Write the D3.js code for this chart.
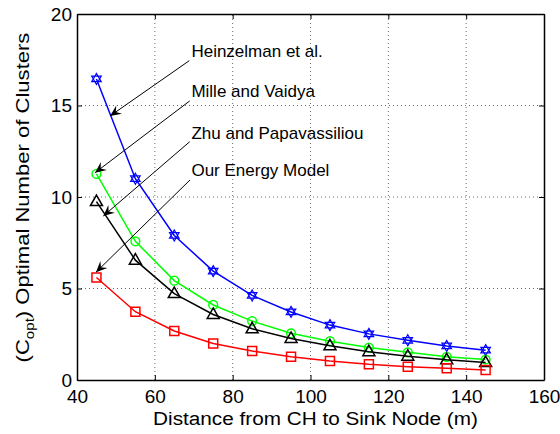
<!DOCTYPE html>
<html>
<head>
<meta charset="utf-8">
<script src="https://cdn.jsdelivr.net/npm/d3@7"></script>
<style>
  body { margin: 0; background: #fff; }
  text { font-family: "Liberation Sans", Arial, sans-serif; fill: #000; }
</style>
</head>
<body>
<div id="chart"></div>
<script>
// distances (m)
const distances = [45, 55, 65, 75, 85, 95, 105, 115, 125, 135, 145];

const heinzelman = [16.45, 11.0, 7.9, 5.95, 4.62, 3.72, 3.0, 2.52, 2.17, 1.86, 1.63];
const mille      = [11.26, 7.58, 5.43, 4.1, 3.22, 2.55, 2.12, 1.77, 1.51, 1.27, 1.12];
const zhu        = [9.75, 6.55, 4.72, 3.58, 2.8, 2.27, 1.87, 1.55, 1.3, 1.1, 0.95];
const ourModel   = [5.6, 3.73, 2.68, 2.0, 1.58, 1.27, 1.04, 0.86, 0.73, 0.64, 0.55];

const xTicks = [40, 60, 80, 100, 120, 140, 160];
const yTicks = [0, 5, 10, 15, 20];

const series = [
  { name: "Heinzelman et al.", values: heinzelman, color: "#0000ff", marker: "hexagram" },
  { name: "Mille and Vaidya", values: mille, color: "#00ff00", marker: "circle" },
  { name: "Zhu and Papavassiliou", values: zhu, color: "#000000", marker: "triangle" },
  { name: "Our Energy Model", values: ourModel, color: "#ff0000", marker: "square" }
];

// annotation text anchor, arrow tail and arrow head, in data units
const notes = [
  { text: "Heinzelman et al.",      tx: 69.4, ty: 17.65, x1: 68.86, y1: 17.45, x2: 48.5, y2: 14.43 },
  { text: "Mille and Vaidya",       tx: 69.4, ty: 15.45, x1: 68.96, y1: 15.25, x2: 44.65, y2: 11.33 },
  { text: "Zhu and Papavassiliou",  tx: 69.4, ty: 13.15, x1: 68.96, y1: 13.02, x2: 46.76, y2: 8.96 },
  { text: "Our Energy Model",       tx: 69.4, ty: 11.15, x1: 69.04, y1: 10.93, x2: 44.88, y2: 5.89 }
];

const width = 560, height = 434;
const margin = { top: 14, right: 16, bottom: 54, left: 77 };

const svg = d3.select("#chart").append("svg")
  .attr("width", width)
  .attr("height", height);

const x = d3.scaleLinear().domain([40, 160]).range([margin.left, width - margin.right]);
const y = d3.scaleLinear().domain([0, 20]).range([height - margin.bottom, margin.top]);

// grid
svg.append("g")
  .selectAll("line")
  .data(xTicks.slice(1, -1))
  .enter().append("line")
  .attr("x1", d => x(d)).attr("x2", d => x(d))
  .attr("y1", y(0)).attr("y2", y(20))
  .attr("stroke", "#444").attr("stroke-width", 0.8)
  .attr("stroke-dasharray", "1,3");

svg.append("g")
  .selectAll("line")
  .data(yTicks.slice(1, -1))
  .enter().append("line")
  .attr("y1", d => y(d)).attr("y2", d => y(d))
  .attr("x1", x(40)).attr("x2", x(160))
  .attr("stroke", "#444").attr("stroke-width", 0.8)
  .attr("stroke-dasharray", "1,3");

// axes (ticks inward)
svg.append("g")
  .attr("transform", `translate(0,${y(0)})`)
  .call(d3.axisBottom(x).tickValues(xTicks).tickSizeInner(-5).tickSizeOuter(0).tickPadding(10));
svg.append("g")
  .attr("transform", `translate(${x(40)},0)`)
  .call(d3.axisLeft(y).tickValues(yTicks).tickSizeInner(-5).tickSizeOuter(0).tickPadding(5));
svg.append("g")
  .attr("transform", `translate(0,${y(20)})`)
  .call(d3.axisTop(x).tickValues(xTicks).tickSizeInner(-5).tickSizeOuter(0).tickFormat(""));
svg.append("g")
  .attr("transform", `translate(${x(160)},0)`)
  .call(d3.axisRight(y).tickValues(yTicks).tickSizeInner(-5).tickSizeOuter(0).tickFormat(""));

svg.selectAll(".domain").attr("stroke", "#000").attr("stroke-width", 1.5);
svg.selectAll(".tick line").attr("stroke", "#000").attr("stroke-width", 1);
svg.selectAll(".tick text")
  .style("font-size", "19px")
  .attr("font-family", "Liberation Sans, Arial, sans-serif");

// series
const line = d3.line()
  .x((d, i) => x(distances[i]))
  .y(d => y(d));

function hexLines(r) {
  // two triangles forming a six-pointed star
  const t = (off) => {
    const p = [0, 1, 2].map(k => {
      const a = -Math.PI / 2 + off + k * 2 * Math.PI / 3;
      return [r * Math.cos(a), r * Math.sin(a)];
    });
    return "M" + p.map(q => q.join(",")).join("L") + "Z";
  };
  return t(0) + t(Math.PI);
}

series.forEach(s => {
  svg.append("path")
    .datum(s.values)
    .attr("fill", "none")
    .attr("stroke", s.color)
    .attr("stroke-width", 1.5)
    .attr("d", line);

  const pts = svg.append("g").selectAll("path.m")
    .data(s.values)
    .enter().append("path")
    .attr("class", "m")
    .attr("transform", (d, i) => `translate(${x(distances[i])},${y(d)})`)
    .attr("fill", "none")
    .attr("stroke", s.color)
    .attr("stroke-width", s.marker === "hexagram" ? 1.2 : 1.5);

  if (s.marker === "hexagram") pts.attr("d", hexLines(5.5));
  if (s.marker === "circle") pts.attr("d", d3.symbol(d3.symbolCircle, 60)());
  if (s.marker === "triangle") pts.attr("d", "M0,-6.5L6,4L-6,4Z");
  if (s.marker === "square") pts.attr("d", "M-4.5,-4.5H4.5V4.5H-4.5Z");
});

// annotations
notes.forEach(n => {
  svg.append("text")
    .attr("x", x(n.tx)).attr("y", y(n.ty))
    .style("font-size", "17px")
    .text(n.text);

  const x1 = x(n.x1), y1 = y(n.y1), x2 = x(n.x2), y2 = y(n.y2);
  svg.append("line")
    .attr("x1", x1).attr("y1", y1).attr("x2", x2).attr("y2", y2)
    .attr("stroke", "#000").attr("stroke-width", 1);

  const ang = Math.atan2(y2 - y1, x2 - x1);
  const L = 11, W = 5, notch = 7;
  const ux = Math.cos(ang), uy = Math.sin(ang);
  const bx = x2 - ux * L, by = y2 - uy * L;
  const nx = x2 - ux * notch, ny = y2 - uy * notch;
  const head = [
    [x2, y2],
    [bx - uy * W, by + ux * W],
    [nx, ny],
    [bx + uy * W, by - ux * W]
  ];
  svg.append("path")
    .attr("d", "M" + head.map(p => p.join(",")).join("L") + "Z")
    .attr("fill", "#000");
});

// axis labels, stretched to the reference's width
const xl = svg.append("text")
  .attr("text-anchor", "middle")
  .style("font-size", "19px")
  .text("Distance from CH to Sink Node (m)");
const xw = xl.node().getComputedTextLength();
xl.attr("transform", `translate(315.5,425) scale(${325 / xw},1)`);

const yl = svg.append("text")
  .attr("text-anchor", "middle")
  .style("font-size", "19px");
yl.append("tspan").text("(C");
yl.append("tspan").attr("dy", 5).style("font-size", "13px").text("opt");
yl.append("tspan").attr("dy", -5).text(") Optimal Number of Clusters");
const yw = yl.node().getBBox().width;
yl.attr("transform", `translate(28.5,197.5) rotate(-90) scale(${330 / yw},1)`);
</script>
</body>
</html>
